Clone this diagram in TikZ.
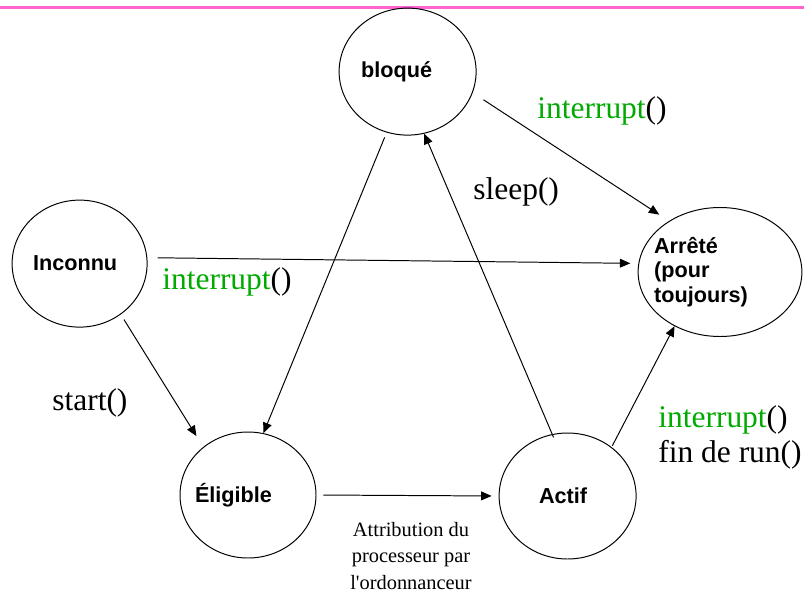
\documentclass[tikz,border=0pt]{standalone}
\usepackage{fontspec}
\setmainfont{Liberation Serif}
\newfontfamily\arial{Liberation Sans}
\usetikzlibrary{shapes.geometric,arrows.meta}
\definecolor{rose}{RGB}{255,100,210}
\definecolor{vert}{RGB}{0,170,0}
\newcommand{\intr}{\textcolor{vert}{interrupt}()}

\begin{document}
\begin{tikzpicture}[scale=1.0,
  etat/.style={draw, ellipse, line width=0.7pt, inner sep=-2mm, font=\arial\bfseries\fontsize{15.4}{17.4}\selectfont},
  lbl/.style={anchor=base west, inner sep=0pt, font=\fontsize{22.4}{24.8}\selectfont},
  fleche/.style={->, line width=0.7pt},
  >={Triangle[length=2.6mm,width=2.2mm]}]
 \useasboundingbox (0,0) rectangle (20.1,14.8);
 \draw[rose, line width=0.65mm] (0,14.605) -- (20.1,14.605);
 % les etats
 \node[etat, minimum width=3.425cm, minimum height=3.175cm] (bloque) at (10.19,13.01) {bloqué\hspace*{5.5mm}};
 \node[etat, minimum width=3.825cm, minimum height=3.225cm, align=left] (arrete) at (18.0,8.0) {Arrêté\\(pour\\toujours)\hspace*{9.5mm}};
 \node[etat, minimum width=3.375cm, minimum height=3.175cm] (inconnu) at (1.99,8.21) {Inconnu\hspace*{2.25mm}};
 \node[etat, minimum width=3.4cm, minimum height=3.15cm] (eligible) at (6.2,2.425) {Éligible\hspace*{7.25mm}};
 \node[etat, minimum width=3.425cm, minimum height=3.15cm] (actif) at (14.19,2.4) {Actif\hspace*{2.25mm}};
 % les transitions
 \draw[fleche, shorten <=3.2mm, shorten >=2.9mm] (bloque.-18) -- (arrete.135.5);
 \draw[fleche, shorten <=2.6mm, shorten >=2mm] (inconnu.5) -- (arrete.174);
 \draw[fleche, shorten <=1.5mm, shorten >=3.2mm] (inconnu.-51) -- (eligible.133);
 \draw[fleche, shorten <=1.3mm] (bloque.-109) -- (eligible.76);
 \draw[fleche, shorten <=-0.9mm] (actif.104) -- (bloque.-75);
 \draw[fleche, shorten <=1.75mm, shorten >=1.75mm] (eligible.east) -- (actif.west);
 \draw[fleche, shorten <=0.4mm] (actif.48) -- (arrete.-130);
 % les libelles
 \node[lbl] (intrHaut) at (13.425,11.825) {\intr};
 \node[lbl] (sommeil) at (11.825,9.825) {sleep()};
 \node[lbl] (intrMilieu) at (4.05,7.575) {\intr};
 \node[lbl] (demarrage) at (1.3,4.55) {start()};
 \node[lbl] (intrBas) at (16.45,4.125) {\intr};
 \node[lbl] (finRun) at (16.45,3.25) {fin de run()};
 \node[anchor=base, align=center, inner sep=0pt, font=\fontsize{14.5}{18.8}\selectfont] (attribution) at (10.275,0.075) {Attribution du\\processeur par\\l\textquotesingle ordonnanceur};
\end{tikzpicture}
\end{document}
